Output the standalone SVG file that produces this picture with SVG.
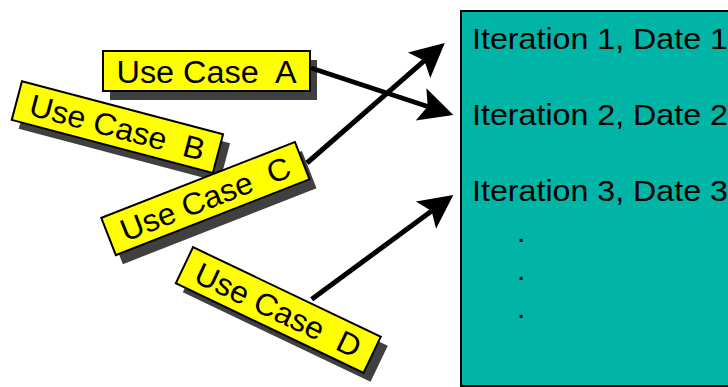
<svg xmlns="http://www.w3.org/2000/svg" width="728" height="387" viewBox="0 0 728 387">
<style>
.uc{fill:#ffff00;stroke:#000;stroke-width:2}
.sh{fill:#404040}
.uct{font-family:"Liberation Sans",Arial,sans-serif;font-size:31px;fill:#000;text-anchor:middle;white-space:pre}
.it{font-family:"Liberation Sans",Arial,sans-serif;font-size:30px;fill:#000;white-space:pre}
.conn{stroke:#000;stroke-width:5;fill:none;marker-end:url(#ah)}
</style>
<defs>
<marker id="ah" markerUnits="userSpaceOnUse" orient="auto" refX="0" refY="0" markerWidth="60" markerHeight="60" viewBox="-30 -30 60 60" overflow="visible">
<path d="M27,0 L-7,-17 L0,0 L-7,17 Z" fill="#000"/>
</marker>
</defs>
<rect width="728" height="387" fill="#fff"/>

<g id="iterations">
<rect x="461" y="11" width="300" height="375" fill="#00B5A6" stroke="#000" stroke-width="2"/>
<text class="it" x="472" y="49" textLength="256" lengthAdjust="spacingAndGlyphs">Iteration 1, Date 1</text>
<text class="it" x="472" y="125" textLength="256" lengthAdjust="spacingAndGlyphs">Iteration 2, Date 2</text>
<text class="it" x="472" y="201" textLength="256" lengthAdjust="spacingAndGlyphs">Iteration 3, Date 3</text>
<text class="it" x="517" y="242">.</text>
<text class="it" x="517" y="280">.</text>
<text class="it" x="517" y="318">.</text>
</g>

<g id="useCaseA">
<rect class="sh" x="110" y="60" width="207" height="40"/>
<rect class="uc" x="103" y="51" width="207" height="40"/>
<text class="uct" x="206.5" y="82.5" textLength="180" lengthAdjust="spacingAndGlyphs">Use Case  A</text>
</g>

<g id="useCaseB">
<rect class="sh" transform="translate(124.4,136.1) rotate(14.8)" x="-104" y="-20" width="208" height="40"/>
<g transform="translate(117.4,127.1) rotate(14.8)">
<rect class="uc" x="-104" y="-20" width="208" height="40"/>
<text class="uct" x="0" y="11" textLength="180" lengthAdjust="spacingAndGlyphs">Use Case  B</text>
</g>
</g>

<g id="useCaseC">
<rect class="sh" transform="translate(212.4,207.6) rotate(-21.4)" x="-104" y="-20" width="208" height="40"/>
<g transform="translate(205.4,198.6) rotate(-21.4)">
<rect class="uc" x="-104" y="-20" width="208" height="40"/>
<text class="uct" x="0" y="11" textLength="180" lengthAdjust="spacingAndGlyphs">Use Case  C</text>
</g>
</g>

<g id="useCaseD">
<rect class="sh" transform="translate(285.3,319) rotate(25.5)" x="-104" y="-20" width="208" height="40"/>
<g transform="translate(278.3,310) rotate(25.5)">
<rect class="uc" x="-104" y="-20" width="208" height="40"/>
<text class="uct" x="0" y="11" textLength="180" lengthAdjust="spacingAndGlyphs">Use Case  D</text>
</g>
</g>

<g id="connectors">
<line class="conn" x1="311" y1="68" x2="427.7" y2="106.5"/>
<line class="conn" x1="307" y1="163" x2="424.4" y2="60.7"/>
<line class="conn" x1="311.7" y1="299.3" x2="431.6" y2="211"/>
</g>
</svg>
